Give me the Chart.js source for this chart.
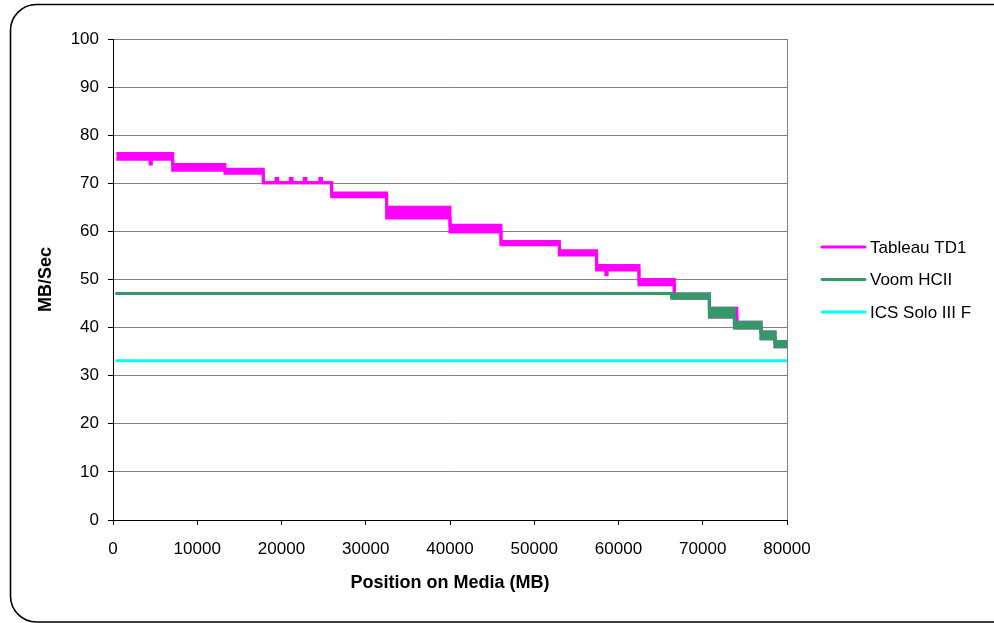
<!DOCTYPE html>
<html>
<head>
<meta charset="utf-8">
<script src="https://cdn.jsdelivr.net/npm/chart.js@4.4.1/dist/chart.umd.min.js"></script>
<style>
  html, body { margin: 0; padding: 0; background: #ffffff; }
  #wrap { width: 994px; height: 623px; }
</style>
</head>
<body>
<div id="wrap"><canvas id="c" width="994" height="623"></canvas></div>
<script>
// ---------- DATA ----------
const seriesNames = ['Tableau TD1', 'Voom HCII', 'ICS Solo III F'];

// Tableau TD1: step starts (MB), lower / upper edge of the noisy band (MB/Sec)
const tabX  = [400, 4400, 4550, 7085, 13290, 17840, 19350, 19550, 21050, 21250, 22700, 22900, 24550, 24750, 25950, 32480, 40000, 46050, 52980, 57400, 58500, 58650, 62430, 66620, 70800, 74050, 76920, 78580, 80000];
const tabLo = [75.0, 74.0, 75.0, 72.7, 72.1, 70.1, 70.1, 70.1, 70.1, 70.1, 70.1, 70.1, 70.1, 70.1, 67.2, 62.8, 59.9, 57.2, 55.1, 52.0, 51.0, 52.0, 48.9, 46.1, 42.2, 39.9, 37.7, 36.0, 36.0];
const tabHi = [76.2, 76.2, 76.2, 73.9, 72.9, 70.1, 71.0, 70.1, 71.0, 70.1, 71.0, 70.1, 71.0, 70.1, 68.0, 65.0, 61.3, 57.9, 56.0, 52.9, 52.9, 52.9, 50.0, 47.0, 44.0, 41.1, 39.1, 37.1, 37.1];

// Voom HCII
const voomX  = [300, 66300, 70780, 73750, 76920, 78580, 80000];
const voomLo = [47.1, 46.1, 42.2, 39.9, 37.7, 36.0, 36.0];
const voomHi = [47.1, 47.0, 44.0, 41.1, 39.1, 37.1, 37.1];

// ICS Solo III F
const icsX = [300, 80000];
const icsY = [33.1, 33.1];

// Tick labels
const xTickLabels = ['0', '10000', '20000', '30000', '40000', '50000', '60000', '70000', '80000'];
const yTickLabels = ['0', '10', '20', '30', '40', '50', '60', '70', '80', '90', '100'];

const colors = ['#FF00FF', '#339966', '#00FFFF'];

// ---------- BUILD ----------
const pts = (xs, ys) => xs.map((x, i) => ({ x: x, y: ys[i] }));
const base = { stepped: 'before', pointRadius: 0, pointHoverRadius: 0, borderWidth: 3, tension: 0, borderJoinStyle: 'miter', borderCapStyle: 'butt' };

const datasets = [
  Object.assign({}, base, { label: seriesNames[0], data: pts(tabX, tabHi), borderColor: colors[0], backgroundColor: colors[0], fill: false, order: 2 }),
  Object.assign({}, base, { label: seriesNames[0] + ' lo', data: pts(tabX, tabLo), borderColor: colors[0], backgroundColor: colors[0], fill: '-1', order: 2 }),
  Object.assign({}, base, { label: seriesNames[1], data: pts(voomX, voomHi), borderColor: colors[1], backgroundColor: colors[1], fill: false, order: 1 }),
  Object.assign({}, base, { label: seriesNames[1] + ' lo', data: pts(voomX, voomLo), borderColor: colors[1], backgroundColor: colors[1], fill: '-1', order: 1 }),
  Object.assign({}, base, { label: seriesNames[2], data: pts(icsX, icsY), borderColor: colors[2], backgroundColor: colors[2], fill: false, order: 3 })
];

const FONT = "'Liberation Sans', Arial, sans-serif";

const frame = {
  id: 'frame',
  beforeDraw(chart) {
    const ctx = chart.ctx;
    ctx.save();
    ctx.fillStyle = '#ffffff';
    ctx.fillRect(0, 0, chart.width, chart.height);
    ctx.beginPath();
    ctx.roundRect(10.5, 4.5, 1010, 617.5, 26);
    ctx.lineWidth = 1.6;
    ctx.strokeStyle = '#000000';
    ctx.stroke();
    ctx.restore();
  }
};

const customLegend = {
  id: 'customLegend',
  afterDraw(chart) {
    const ctx = chart.ctx;
    const a = chart.chartArea;
    const cy = (a.top + a.bottom) / 2;
    const gap = 32.5;
    const x0 = a.right + 35, x1 = a.right + 78, tx = a.right + 83;
    ctx.save();
    ctx.font = '17px ' + FONT;
    ctx.textAlign = 'left';
    ctx.textBaseline = 'middle';
    seriesNames.forEach((name, i) => {
      const y = cy + (i - 1) * gap;
      ctx.beginPath();
      ctx.moveTo(x0, y);
      ctx.lineTo(x1, y);
      ctx.lineWidth = 3;
      ctx.lineCap = 'round';
      ctx.strokeStyle = colors[i];
      ctx.stroke();
      ctx.fillStyle = '#000000';
      ctx.fillText(name, tx, y + 1);
    });
    ctx.restore();
  }
};

new Chart(document.getElementById('c'), {
  type: 'line',
  data: { datasets: datasets },
  plugins: [frame, customLegend],
  options: {
    responsive: false,
    animation: false,
    events: [],
    layout: { padding: { left: 0, top: 39, right: 207, bottom: 0 } },
    plugins: { legend: { display: false }, tooltip: { enabled: false }, title: { display: false } },
    scales: {
      x: {
        type: 'linear', min: 0, max: 80000,
        afterFit(s) { s.height = 103; },
        ticks: { stepSize: 10000, color: '#000', font: { family: FONT, size: 17 }, padding: 14, maxRotation: 0,
                 callback: (v, i) => xTickLabels[i] },
        grid: { color: (c) => (c.tick && c.tick.value === 80000) ? '#808080' : 'rgba(0,0,0,0)', tickColor: '#000', tickLength: 5, lineWidth: 1 },
        border: { color: '#000', width: 1 },
        title: { display: true, text: 'Position on Media (MB)', color: '#000', font: { family: FONT, size: 18, weight: 'bold' }, padding: { top: 0, bottom: 29 } }
      },
      y: {
        min: 0, max: 100,
        afterFit(s) { s.width = 113; },
        ticks: { stepSize: 10, color: '#000', font: { family: FONT, size: 17 }, padding: 9,
                 callback: (v, i) => yTickLabels[i] },
        grid: { color: '#808080', tickColor: '#000', tickLength: 5, lineWidth: 1 },
        border: { color: '#000', width: 1 },
        title: { display: true, text: 'MB/Sec', color: '#000', font: { family: FONT, size: 18, weight: 'bold' }, padding: { top: 35, bottom: 0 } }
      }
    }
  }
});
</script>
</body>
</html>
